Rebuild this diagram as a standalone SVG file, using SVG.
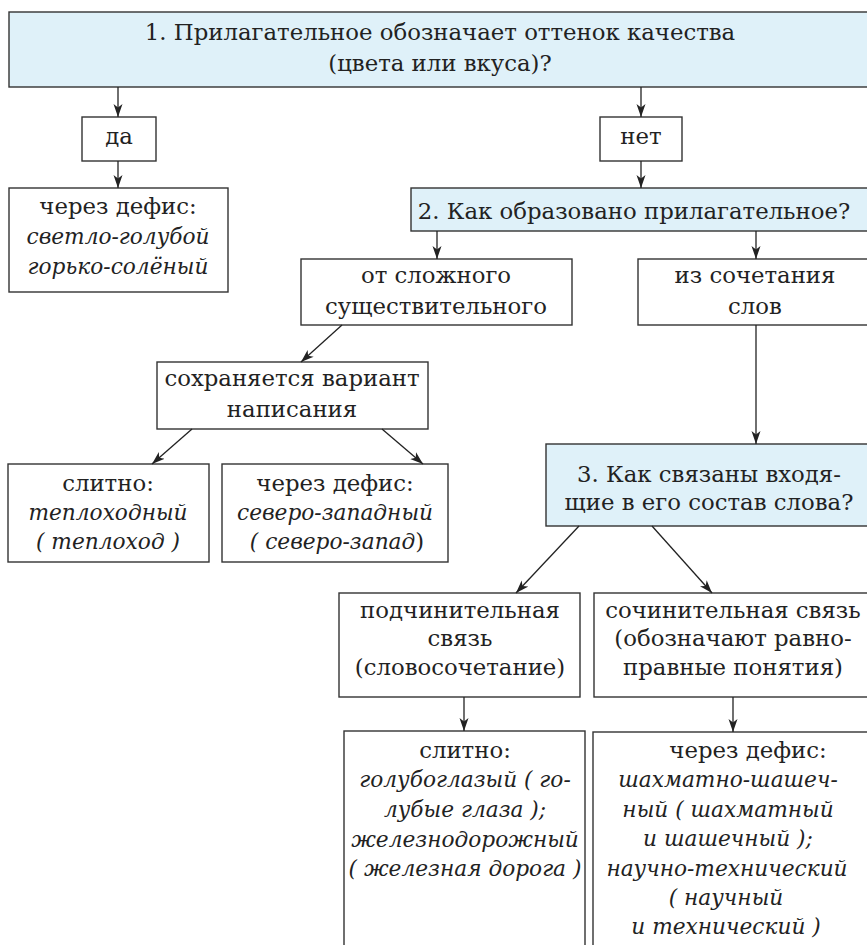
<svg xmlns="http://www.w3.org/2000/svg" width="867" height="945" viewBox="0 0 867 945">
<style>
.box{fill:#fff;stroke:#333;stroke-width:1.4}
.q{fill:#dff1f9;stroke:#333;stroke-width:1.4}
text{font-family:"DejaVu Serif","Liberation Serif",serif;font-size:22.8px;fill:#222;text-anchor:middle}
.i{font-style:italic;font-size:21.7px}
.c line{stroke:#222;stroke-width:1.3;marker-end:url(#ah)}
</style>
<defs>
<marker id="ah" markerUnits="userSpaceOnUse" markerWidth="14" markerHeight="10" refX="13" refY="5" orient="auto">
<path d="M0,0.5 L13,5 L0,9.5 L3.5,5 z" fill="#222"/>
</marker>
</defs>
<g id="n1"><rect class="q" x="9" y="12" width="862" height="75"/>
<text x="440" y="40">1. Прилагательное обозначает оттенок качества</text>
<text x="440" y="71">(цвета или вкуса)?</text></g>
<g id="da"><rect class="box" x="82" y="117" width="74" height="44"/><text x="119" y="144">да</text></g>
<g id="net"><rect class="box" x="600" y="117" width="82" height="44"/><text x="641" y="144">нет</text></g>
<g id="def1"><rect class="box" x="9" y="188" width="219" height="104"/>
<text x="118" y="214">через дефис:</text>
<text class="i" x="118" y="244">светло-голубой</text>
<text class="i" x="118" y="274">горько-солёный</text></g>
<g id="n2"><rect class="q" x="411" y="188" width="460" height="43"/>
<text x="634" y="219">2. Как образовано прилагательное?</text></g>
<g id="slozh"><rect class="box" x="301" y="259" width="271" height="66"/>
<text x="436" y="283">от сложного</text>
<text x="436" y="314">существительного</text></g>
<g id="sochet"><rect class="box" x="638" y="259" width="234" height="66"/>
<text x="755" y="283">из сочетания</text>
<text x="755" y="314">слов</text></g>
<g id="sohr"><rect class="box" x="157" y="362" width="271" height="67"/>
<text x="292" y="386">сохраняется вариант</text>
<text x="292" y="417">написания</text></g>
<g id="slitno1"><rect class="box" x="8" y="464" width="201" height="98"/>
<text x="108" y="491">слитно:</text>
<text class="i" x="108" y="520">теплоходный</text>
<text class="i" x="108" y="549">( теплоход )</text></g>
<g id="def2"><rect class="box" x="222" y="464" width="226" height="98"/>
<text x="335" y="491">через дефис:</text>
<text class="i" x="335" y="520">северо-западный</text>
<text x="337" y="549"><tspan class="i">( северо-запад</tspan>)</text></g>
<g id="n3"><rect class="q" x="546" y="444" width="326" height="82"/>
<text x="709" y="482">3. Как связаны входя-</text>
<text x="709" y="510">щие в его состав слова?</text></g>
<g id="podch"><rect class="box" x="339" y="593" width="241" height="104"/>
<text x="460" y="618">подчинительная</text>
<text x="460" y="646">связь</text>
<text x="460" y="675">(словосочетание)</text></g>
<g id="sochin"><rect class="box" x="594" y="593" width="278" height="104"/>
<text x="733" y="618">сочинительная связь</text>
<text x="733" y="646">(обозначают равно-</text>
<text x="733" y="675">правные понятия)</text></g>
<g id="slitno2"><rect class="box" x="344" y="731" width="241" height="230"/>
<text x="465" y="758">слитно:</text>
<text class="i" x="465" y="787">голубоглазый ( го-</text>
<text class="i" x="465" y="817">лубые глаза );</text>
<text class="i" x="465" y="847">железнодорожный</text>
<text class="i" x="465" y="876">( железная дорога )</text></g>
<g id="def3"><rect class="box" x="593" y="732" width="279" height="230"/>
<text x="748" y="758">через дефис:</text>
<text class="i" x="728" y="787">шахматно-шашеч-</text>
<text class="i" x="728" y="817">ный ( шахматный</text>
<text class="i" x="728" y="846">и шашечный );</text>
<text class="i" x="727" y="876">научно-технический</text>
<text class="i" x="726" y="905">( научный</text>
<text class="i" x="726" y="934">и технический )</text></g>
<g id="connectors" class="c">
<line x1="118" y1="87" x2="118" y2="117"/>
<line x1="118" y1="161" x2="118" y2="188"/>
<line x1="641" y1="87" x2="641" y2="117"/>
<line x1="641" y1="161" x2="641" y2="188"/>
<line x1="437" y1="231" x2="437" y2="259"/>
<line x1="756" y1="231" x2="756" y2="259"/>
<line x1="756" y1="325" x2="756" y2="444"/>
<line x1="342" y1="325" x2="301" y2="362"/>
<line x1="192" y1="429" x2="152" y2="464"/>
<line x1="382" y1="429" x2="423" y2="464"/>
<line x1="579" y1="526" x2="516" y2="593"/>
<line x1="652" y1="526" x2="712" y2="593"/>
<line x1="464" y1="697" x2="464" y2="731"/>
<line x1="733" y1="697" x2="733" y2="732"/>
</g>
</svg>
